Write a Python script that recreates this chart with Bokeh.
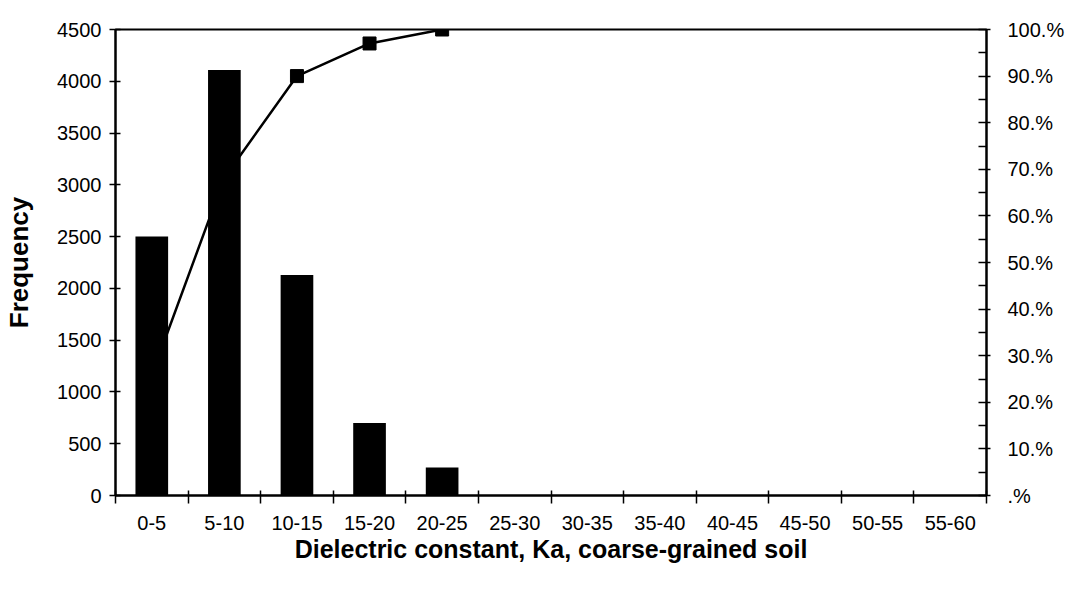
import numpy as np
from bokeh.plotting import figure
from bokeh.models import Range1d, LinearAxis, FixedTicker, ColumnDataSource
from bokeh.embed import file_html
from bokeh.resources import INLINE

# ---- data ----
categories = ["0-5", "5-10", "10-15", "15-20", "20-25", "25-30", "30-35",
              "35-40", "40-45", "45-50", "50-55", "55-60"]
frequency = [2500, 4110, 2130, 700, 270, 0, 0, 0, 0, 0, 0, 0]
cumulative_pct = [25.8, 68.2, 90.0, 97.0, 100.0]
freq_ticks = [0, 500, 1000, 1500, 2000, 2500, 3000, 3500, 4000, 4500]
pct_ticks = [0, 10, 20, 30, 40, 50, 60, 70, 80, 90, 100]
pct_labels = [".%", "10.%", "20.%", "30.%", "40.%", "50.%", "60.%",
              "70.%", "80.%", "90.%", "100.%"]

FONT = "Liberation Sans"

n = len(categories)
centers = [i + 0.5 for i in range(n)]
bounds = list(range(n + 1))

p = figure(width=1067, height=574, output_backend="svg", toolbar_location=None,
           x_range=Range1d(0, n), y_range=Range1d(freq_ticks[0], freq_ticks[-1]),
           min_border_left=115, min_border_right=70, min_border_top=29,
           min_border_bottom=79)
p.grid.visible = False
p.outline_line_color = "black"
p.outline_line_width = 2
p.background_fill_color = "white"
p.border_fill_color = "white"

p.extra_y_ranges = {"pct": Range1d(pct_ticks[0], pct_ticks[-1])}

# cumulative line (drawn first so bars cover it)
cum_src = ColumnDataSource(dict(x=centers[:len(cumulative_pct)], y=cumulative_pct))
p.line("x", "y", source=cum_src, y_range_name="pct", line_color="black", line_width=2.5)
p.scatter("x", "y", source=cum_src, y_range_name="pct", marker="square", size=13,
          fill_color="black", line_color="black")

# bars
bar_src = ColumnDataSource(dict(x=centers, top=frequency))
p.vbar(x="x", top="top", bottom=0, width=0.45, source=bar_src,
       fill_color="black", line_color=None)

# x axis
xa = p.xaxis[0]
xa.ticker = FixedTicker(ticks=centers, minor_ticks=bounds)
xa.major_label_overrides = {c: lab for c, lab in zip(centers, categories)}
xa.major_tick_line_color = None
xa.major_tick_out = 8
xa.major_tick_in = 0
xa.minor_tick_in = 5
xa.minor_tick_out = 8
xa.minor_tick_line_color = "black"
xa.minor_tick_line_width = 1.5
xa.axis_line_width = 2
xa.major_label_standoff = 12
xa.major_label_text_font = FONT
xa.major_label_text_font_size = "20px"
xa.major_label_text_color = "black"
xa.axis_label = "Dielectric constant, Ka, coarse-grained soil"
xa.axis_label_text_font = FONT
xa.axis_label_text_font_style = "bold"
xa.axis_label_text_font_size = "25px"
xa.axis_label_text_color = "black"
xa.axis_label_standoff = 2

# left axis
ya = p.yaxis[0]
ya.ticker = FixedTicker(ticks=freq_ticks)
ya.minor_tick_line_color = None
ya.major_tick_in = 5
ya.major_tick_out = 6
ya.major_tick_line_width = 1.5
ya.axis_line_width = 2
ya.major_label_standoff = 8
ya.major_label_text_font = FONT
ya.major_label_text_font_size = "20px"
ya.major_label_text_color = "black"
ya.axis_label = "Frequency"
ya.axis_label_text_font = FONT
ya.axis_label_text_font_style = "bold"
ya.axis_label_text_font_size = "26px"
ya.axis_label_text_color = "black"
ya.axis_label_standoff = 20

# right axis
ra = LinearAxis(y_range_name="pct")
ra.ticker = FixedTicker(ticks=pct_ticks,
                        minor_ticks=[(a + b) / 2 for a, b in zip(pct_ticks[:-1], pct_ticks[1:])])
ra.major_label_overrides = {t: lab for t, lab in zip(pct_ticks, pct_labels)}
ra.major_tick_in = 8
ra.major_tick_out = 4
ra.minor_tick_in = 8
ra.minor_tick_out = 0
ra.major_tick_line_width = 1.5
ra.minor_tick_line_width = 1.5
ra.axis_line_width = 2
ra.major_label_standoff = 17
ra.major_label_text_font = FONT
ra.major_label_text_font_size = "20px"
ra.major_label_text_color = "black"
p.add_layout(ra, "right")

open("out.html", "w").write(file_html(p, INLINE))
